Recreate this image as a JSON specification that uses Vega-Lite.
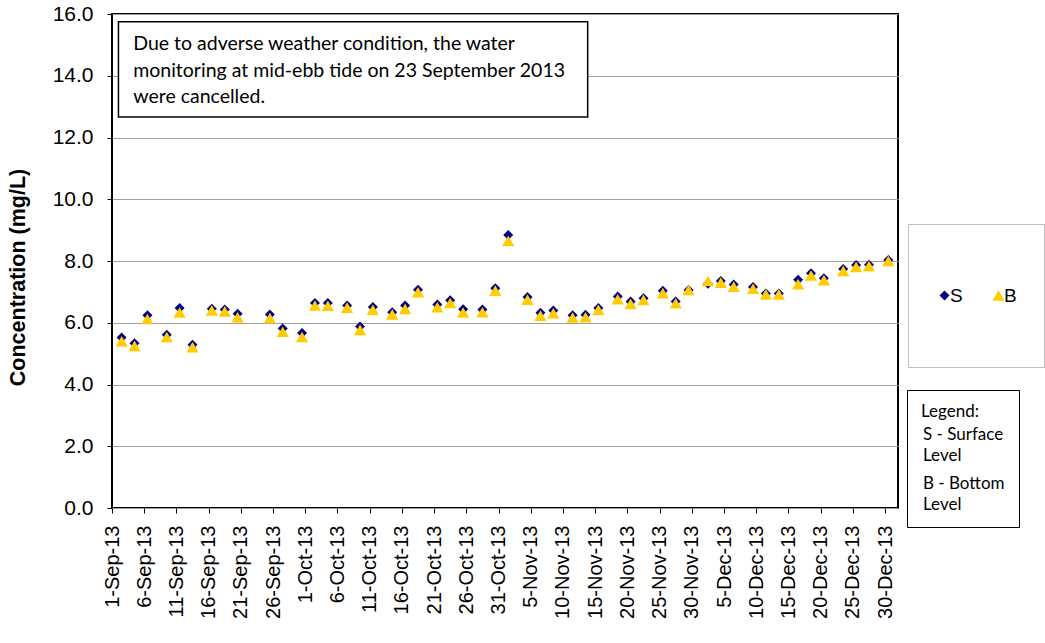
{
  "$schema": "https://vega.github.io/schema/vega-lite/v6.json",
  "width": 786,
  "height": 494,
  "autosize": "none",
  "padding": {"left": 112, "top": 14, "right": 147, "bottom": 135},
  "background": "white",
  "config": {
    "view": {"stroke": "black", "strokeWidth": 2},
    "font": "Liberation Sans",
    "style": {"guide-label": {"lineHeight": 21}}
  },
  "layer": [
    {
      "data": {
        "values": [
          {"date": "2013-09-02", "level": "S", "value": 5.52},
          {"date": "2013-09-04", "level": "S", "value": 5.34},
          {"date": "2013-09-06", "level": "S", "value": 6.24},
          {"date": "2013-09-09", "level": "S", "value": 5.61},
          {"date": "2013-09-11", "level": "S", "value": 6.48},
          {"date": "2013-09-13", "level": "S", "value": 5.29},
          {"date": "2013-09-16", "level": "S", "value": 6.45},
          {"date": "2013-09-18", "level": "S", "value": 6.43},
          {"date": "2013-09-20", "level": "S", "value": 6.29},
          {"date": "2013-09-25", "level": "S", "value": 6.27},
          {"date": "2013-09-27", "level": "S", "value": 5.81},
          {"date": "2013-09-30", "level": "S", "value": 5.67},
          {"date": "2013-10-02", "level": "S", "value": 6.64},
          {"date": "2013-10-04", "level": "S", "value": 6.64},
          {"date": "2013-10-07", "level": "S", "value": 6.56},
          {"date": "2013-10-09", "level": "S", "value": 5.88},
          {"date": "2013-10-11", "level": "S", "value": 6.51},
          {"date": "2013-10-14", "level": "S", "value": 6.34},
          {"date": "2013-10-16", "level": "S", "value": 6.56},
          {"date": "2013-10-18", "level": "S", "value": 7.07},
          {"date": "2013-10-21", "level": "S", "value": 6.59},
          {"date": "2013-10-23", "level": "S", "value": 6.73},
          {"date": "2013-10-25", "level": "S", "value": 6.44},
          {"date": "2013-10-28", "level": "S", "value": 6.43},
          {"date": "2013-10-30", "level": "S", "value": 7.12},
          {"date": "2013-11-01", "level": "S", "value": 8.84},
          {"date": "2013-11-04", "level": "S", "value": 6.83},
          {"date": "2013-11-06", "level": "S", "value": 6.32},
          {"date": "2013-11-08", "level": "S", "value": 6.40},
          {"date": "2013-11-11", "level": "S", "value": 6.24},
          {"date": "2013-11-13", "level": "S", "value": 6.26},
          {"date": "2013-11-15", "level": "S", "value": 6.48},
          {"date": "2013-11-18", "level": "S", "value": 6.85},
          {"date": "2013-11-20", "level": "S", "value": 6.69},
          {"date": "2013-11-22", "level": "S", "value": 6.79},
          {"date": "2013-11-25", "level": "S", "value": 7.04},
          {"date": "2013-11-27", "level": "S", "value": 6.69},
          {"date": "2013-11-29", "level": "S", "value": 7.06},
          {"date": "2013-12-02", "level": "S", "value": 7.26},
          {"date": "2013-12-04", "level": "S", "value": 7.35},
          {"date": "2013-12-06", "level": "S", "value": 7.24},
          {"date": "2013-12-09", "level": "S", "value": 7.16},
          {"date": "2013-12-11", "level": "S", "value": 6.95},
          {"date": "2013-12-13", "level": "S", "value": 6.95},
          {"date": "2013-12-16", "level": "S", "value": 7.39},
          {"date": "2013-12-18", "level": "S", "value": 7.60},
          {"date": "2013-12-20", "level": "S", "value": 7.44},
          {"date": "2013-12-23", "level": "S", "value": 7.74},
          {"date": "2013-12-25", "level": "S", "value": 7.87},
          {"date": "2013-12-27", "level": "S", "value": 7.88},
          {"date": "2013-12-30", "level": "S", "value": 8.03},
          {"date": "2013-09-02", "level": "B", "value": 5.40},
          {"date": "2013-09-04", "level": "B", "value": 5.25},
          {"date": "2013-09-06", "level": "B", "value": 6.12},
          {"date": "2013-09-09", "level": "B", "value": 5.54},
          {"date": "2013-09-11", "level": "B", "value": 6.33},
          {"date": "2013-09-13", "level": "B", "value": 5.21},
          {"date": "2013-09-16", "level": "B", "value": 6.40},
          {"date": "2013-09-18", "level": "B", "value": 6.37},
          {"date": "2013-09-20", "level": "B", "value": 6.18},
          {"date": "2013-09-25", "level": "B", "value": 6.15},
          {"date": "2013-09-27", "level": "B", "value": 5.71},
          {"date": "2013-09-30", "level": "B", "value": 5.54},
          {"date": "2013-10-02", "level": "B", "value": 6.56},
          {"date": "2013-10-04", "level": "B", "value": 6.55},
          {"date": "2013-10-07", "level": "B", "value": 6.49},
          {"date": "2013-10-09", "level": "B", "value": 5.77},
          {"date": "2013-10-11", "level": "B", "value": 6.42},
          {"date": "2013-10-14", "level": "B", "value": 6.27},
          {"date": "2013-10-16", "level": "B", "value": 6.45},
          {"date": "2013-10-18", "level": "B", "value": 6.99},
          {"date": "2013-10-21", "level": "B", "value": 6.50},
          {"date": "2013-10-23", "level": "B", "value": 6.64},
          {"date": "2013-10-25", "level": "B", "value": 6.33},
          {"date": "2013-10-28", "level": "B", "value": 6.34},
          {"date": "2013-10-30", "level": "B", "value": 7.04},
          {"date": "2013-11-01", "level": "B", "value": 8.65},
          {"date": "2013-11-04", "level": "B", "value": 6.75},
          {"date": "2013-11-06", "level": "B", "value": 6.23},
          {"date": "2013-11-08", "level": "B", "value": 6.31},
          {"date": "2013-11-11", "level": "B", "value": 6.17},
          {"date": "2013-11-13", "level": "B", "value": 6.18},
          {"date": "2013-11-15", "level": "B", "value": 6.42},
          {"date": "2013-11-18", "level": "B", "value": 6.76},
          {"date": "2013-11-20", "level": "B", "value": 6.61},
          {"date": "2013-11-22", "level": "B", "value": 6.74},
          {"date": "2013-11-25", "level": "B", "value": 6.96},
          {"date": "2013-11-27", "level": "B", "value": 6.63},
          {"date": "2013-11-29", "level": "B", "value": 7.06},
          {"date": "2013-12-02", "level": "B", "value": 7.35},
          {"date": "2013-12-04", "level": "B", "value": 7.30},
          {"date": "2013-12-06", "level": "B", "value": 7.17},
          {"date": "2013-12-09", "level": "B", "value": 7.10},
          {"date": "2013-12-11", "level": "B", "value": 6.92},
          {"date": "2013-12-13", "level": "B", "value": 6.92},
          {"date": "2013-12-16", "level": "B", "value": 7.25},
          {"date": "2013-12-18", "level": "B", "value": 7.53},
          {"date": "2013-12-20", "level": "B", "value": 7.38},
          {"date": "2013-12-23", "level": "B", "value": 7.68},
          {"date": "2013-12-25", "level": "B", "value": 7.81},
          {"date": "2013-12-27", "level": "B", "value": 7.84},
          {"date": "2013-12-30", "level": "B", "value": 8.00}
        ],
        "format": {"parse": {"date": "date:'%Y-%m-%d'"}}
      },
      "mark": {"type": "point", "filled": true, "opacity": 1, "strokeWidth": 0, "xOffset": 3.2},
      "encoding": {
        "x": {
          "field": "date",
          "type": "temporal",
          "scale": {
            "domain": [
              {"year": 2013, "month": 9, "date": 1},
              {"year": 2014, "month": 1, "date": 1}
            ],
            "nice": false
          },
          "axis": {
            "title": null,
            "grid": false,
            "domain": false,
            "format": "%-d-%b-%y",
            "labelAngle": 270,
            "labelFontSize": 20,
            "labelColor": "black",
            "labelPadding": 12,
            "labelOverlap": false,
            "labelBound": false,
            "labelFlush": false,
            "tickCount": 40,
            "tickSize": 5,
            "tickColor": "black",
            "values": [
              {"year": 2013, "month": 9, "date": 1},
              {"year": 2013, "month": 9, "date": 6},
              {"year": 2013, "month": 9, "date": 11},
              {"year": 2013, "month": 9, "date": 16},
              {"year": 2013, "month": 9, "date": 21},
              {"year": 2013, "month": 9, "date": 26},
              {"year": 2013, "month": 10, "date": 1},
              {"year": 2013, "month": 10, "date": 6},
              {"year": 2013, "month": 10, "date": 11},
              {"year": 2013, "month": 10, "date": 16},
              {"year": 2013, "month": 10, "date": 21},
              {"year": 2013, "month": 10, "date": 26},
              {"year": 2013, "month": 10, "date": 31},
              {"year": 2013, "month": 11, "date": 5},
              {"year": 2013, "month": 11, "date": 10},
              {"year": 2013, "month": 11, "date": 15},
              {"year": 2013, "month": 11, "date": 20},
              {"year": 2013, "month": 11, "date": 25},
              {"year": 2013, "month": 11, "date": 30},
              {"year": 2013, "month": 12, "date": 5},
              {"year": 2013, "month": 12, "date": 10},
              {"year": 2013, "month": 12, "date": 15},
              {"year": 2013, "month": 12, "date": 20},
              {"year": 2013, "month": 12, "date": 25},
              {"year": 2013, "month": 12, "date": 30}
            ]
          }
        },
        "y": {
          "field": "value",
          "type": "quantitative",
          "scale": {"domain": [0, 16], "nice": false},
          "axis": {
            "title": "Concentration (mg/L)",
            "values": [0, 2, 4, 6, 8, 10, 12, 14, 16],
            "tickCount": 20,
            "format": ".1f",
            "domain": false,
            "grid": true,
            "gridColor": "#a0a0a0",
            "gridWidth": 1,
            "labelFontSize": 21,
            "labelColor": "black",
            "labelPadding": 14,
            "labelFlush": false,
            "labelOverlap": false,
            "tickSize": 5,
            "tickColor": "black",
            "titleFontSize": 21.5,
            "titleFontWeight": "bold",
            "titleColor": "black",
            "titleAngle": 270,
            "titleAlign": "center",
            "titleBaseline": "middle",
            "titleX": -94,
            "titleY": 263
          }
        },
        "color": {
          "field": "level",
          "type": "nominal",
          "scale": {"domain": ["S", "B"], "range": ["#000080", "#FFCC00"]},
          "legend": {
            "title": null,
            "orient": "none",
            "legendX": 796,
            "legendY": 210,
            "direction": "horizontal",
            "columns": 2,
            "padding": 27,
            "clipHeight": 89,
            "columnPadding": 26,
            "strokeColor": "#bfbfbf",
            "fillColor": "white",
            "symbolSize": 100,
            "symbolStrokeWidth": 0,
            "labelFont": "Liberation Sans",
            "labelFontSize": 19,
            "labelColor": "black",
            "labelOffset": -4
          }
        },
        "shape": {
          "field": "level",
          "type": "nominal",
          "scale": {"domain": ["S", "B"], "range": ["diamond", "triangle-up"]},
          "legend": {
            "title": null,
            "orient": "none",
            "legendX": 796,
            "legendY": 210,
            "direction": "horizontal",
            "columns": 2,
            "padding": 27,
            "clipHeight": 89,
            "columnPadding": 26,
            "strokeColor": "#bfbfbf",
            "fillColor": "white",
            "symbolSize": 100,
            "symbolStrokeWidth": 0,
            "labelFont": "Liberation Sans",
            "labelFontSize": 19,
            "labelColor": "black",
            "labelOffset": -4
          }
        },
        "size": {
          "field": "level",
          "type": "nominal",
          "scale": {"domain": ["S", "B"], "range": [100, 150]},
          "legend": null
        }
      }
    },
    {
      "data": {"values": [{"note": "Due  to adverse weather condition, the  water\nmonitoring at mid-ebb tide on 23 September 2013\nwere cancelled."}]},
      "mark": {"type": "rect", "fill": "white", "stroke": "black", "strokeWidth": 1.5},
      "encoding": {
        "x": {"datum": {"year": 2013, "month": 9, "date": 2}, "type": "temporal"},
        "x2": {"datum": {"year": 2013, "month": 11, "date": 13, "hours": 20}},
        "y": {"datum": 15.75, "type": "quantitative"},
        "y2": {"datum": 12.66}
      }
    },
    {
      "data": {"values": [{"note": "Due  to adverse weather condition, the  water\nmonitoring at mid-ebb tide on 23 September 2013\nwere cancelled."}]},
      "mark": {"type": "text", "font": "Lato", "fontSize": 19.5, "align": "left", "baseline": "alphabetic", "lineBreak": "\n", "lineHeight": 26.5, "color": "black"},
      "encoding": {
        "text": {"field": "note", "type": "nominal"},
        "x": {"datum": {"year": 2013, "month": 9, "date": 4, "hours": 7}, "type": "temporal"},
        "y": {"datum": 14.82, "type": "quantitative"}
      }
    },
    {
      "data": {"values": [{"entry": "S - Surface Level"}, {"entry": "B - Bottom Level"}]},
      "mark": {"type": "point", "opacity": 0},
      "encoding": {
        "strokeDash": {
          "field": "entry",
          "type": "nominal",
          "scale": {"domain": ["S - Surface Level", "B - Bottom Level"]},
          "legend": {
            "title": "Legend:",
            "orient": "none",
            "legendX": 795,
            "legendY": 376,
            "direction": "vertical",
            "padding": 14,
            "strokeColor": "black",
            "fillColor": "white",
            "titleFont": "Lato",
            "titleFontSize": 17,
            "titleFontWeight": "normal",
            "titleColor": "black",
            "titlePadding": -6,
            "labelFont": "Lato",
            "labelFontSize": 17,
            "labelColor": "black",
            "labelExpr": "[replace(datum.label, ' Level', ''), 'Level']",
            "labelOffset": -15,
            "symbolSize": 1,
            "symbolOpacity": 0,
            "clipHeight": 39,
            "rowPadding": 0,
            "encode": {
              "legend": {"update": {"strokeWidth": {"value": 2}}},
              "labels": {"enter": {"lineHeight": {"value": 21}}, "update": {"lineHeight": {"value": 21}}}
            }
          }
        }
      }
    }
  ]
}
